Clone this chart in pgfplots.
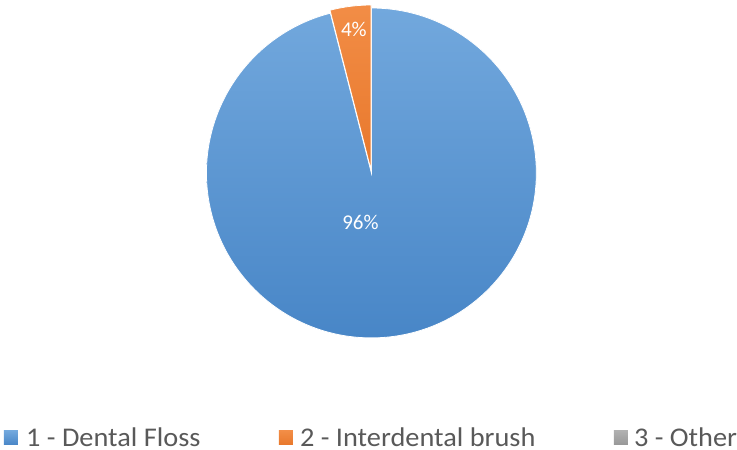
\documentclass[border=0pt]{standalone}
\usepackage{pgfplots}
\usepackage{pgfplotstable}
\pgfplotsset{compat=1.18}
\usepackage{fontspec}
\setmainfont{Carlito}

\definecolor{blueT}{HTML}{72A8DD}
\definecolor{blueB}{HTML}{4886C7}
\definecolor{orangeT}{HTML}{F28D46}
\definecolor{orangeB}{HTML}{E8782C}
\definecolor{grayT}{HTML}{B0B0B0}
\definecolor{grayB}{HTML}{989898}
\definecolor{legtext}{HTML}{595959}

% share of each answer (percent)
\pgfplotstableread{
label value
{1 - Dental Floss} 96
{2 - Interdental brush} 4
{3 - Other} 0
}\piedata

\tikzset{legtxt/.style={anchor=base west, inner sep=0, xscale=1.05, text=legtext,
    font=\fontsize{27}{30}\selectfont}}

\begin{document}
\begin{tikzpicture}
\pgfplotstablegetelem{0}{value}\of\piedata \let\va\pgfplotsretval
\pgfplotstablegetelem{1}{value}\of\piedata \let\vb\pgfplotsretval
\pgfmathsetmacro{\aEnd}{90-3.6*\va}
\pgfmathsetmacro{\bEnd}{\aEnd-3.6*\vb}
\pgfmathsetmacro{\bMid}{(\aEnd+\bEnd)/2}
\begin{axis}[
    scale only axis,
    width=737pt, height=450pt,
    xmin=0, xmax=737, ymin=0, ymax=450,
    hide axis, clip=false,
]
\addplot[draw=none] coordinates {(0,0) (737,450)};
% blue slice
\shade[top color=blueT, bottom color=blueB, draw=white, line width=0.8pt]
    (axis cs:371.5,277) -- ++(90:165pt)
    arc[start angle=90, end angle=\aEnd, radius=165pt] -- cycle;
% orange slice, pulled out a little
\shade[top color=orangeT, bottom color=orangeB, draw=white, line width=0.8pt]
    ([shift={(\bMid:3pt)}]axis cs:371.5,277) -- ++(\aEnd:165pt)
    arc[start angle=\aEnd, end angle=\bEnd, radius=165pt] -- cycle;
\node[text=white, font=\fontsize{21}{24}\selectfont] at (axis cs:360.5,228) {\va\%};
\node[text=white, font=\fontsize{21}{24}\selectfont] at (axis cs:354,421) {\vb\%};
% legend
\shade[top color=blueT, bottom color=blueB] (axis cs:4,5) rectangle (axis cs:18,19);
\shade[top color=orangeT, bottom color=orangeB] (axis cs:279,5) rectangle (axis cs:293,19);
\shade[top color=grayT, bottom color=grayB] (axis cs:614,5) rectangle (axis cs:628,19);
\node[legtxt] at (axis cs:26,3) {1 - Dental Floss};
\node[legtxt] at (axis cs:300,3) {2 - Interdental brush};
\node[legtxt] at (axis cs:634,3) {3 - Other};
\end{axis}
\useasboundingbox (0,0) rectangle (737pt,450pt);
\end{tikzpicture}
\end{document}
